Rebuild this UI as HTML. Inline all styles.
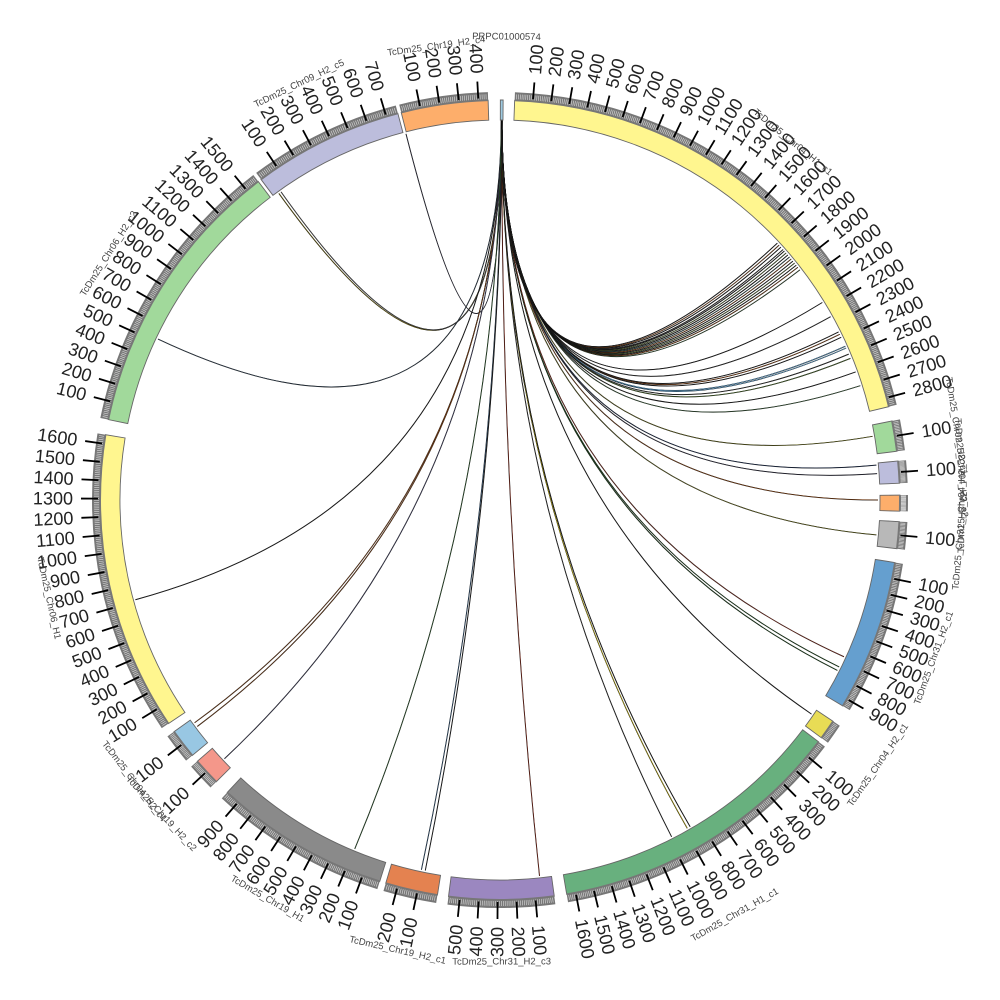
<!DOCTYPE html>
<html><head><meta charset="utf-8"><style>
html,body{margin:0;padding:0;background:#fff;}
svg{display:block;}
.tl text{font-family:"Liberation Sans",sans-serif;font-size:18px;fill:#222;dominant-baseline:central;}
.nm text{font-family:"Liberation Sans",sans-serif;font-size:9.5px;fill:#444;text-anchor:middle;dominant-baseline:central;}
</style></head><body>
<svg id="s" width="1000" height="1000" viewBox="0 0 1000 1000" xmlns="http://www.w3.org/2000/svg">
<g id="links"></g>
<g id="ideo"></g>
<g id="ticks"></g>
<g class="tl" id="t2"><text>100</text><text>200</text><text>300</text><text>400</text><text>500</text><text>600</text><text>700</text><text>800</text><text>900</text><text>1000</text><text>1100</text><text>1200</text><text>1300</text><text>1400</text><text>1500</text><text>1600</text><text>1700</text><text>1800</text><text>1900</text><text>2000</text><text>2100</text><text>2200</text><text>2300</text><text>2400</text><text>2500</text><text>2600</text><text>2700</text><text>2800</text></g>
<g class="tl" id="t3"><text>100</text></g>
<g class="tl" id="t4"><text>100</text></g>
<g class="tl" id="t6"><text>100</text></g>
<g class="tl" id="t7"><text>100</text><text>200</text><text>300</text><text>400</text><text>500</text><text>600</text><text>700</text><text>800</text><text>900</text></g>
<g class="tl" id="t9"><text>100</text><text>200</text><text>300</text><text>400</text><text>500</text><text>600</text><text>700</text><text>800</text><text>900</text><text>1000</text><text>1100</text><text>1200</text><text>1300</text><text>1400</text><text>1500</text><text>1600</text></g>
<g class="tl" id="t10"><text>100</text><text>200</text><text>300</text><text>400</text><text>500</text></g>
<g class="tl" id="t11"><text>100</text><text>200</text></g>
<g class="tl" id="t12"><text>100</text><text>200</text><text>300</text><text>400</text><text>500</text><text>600</text><text>700</text><text>800</text><text>900</text></g>
<g class="tl" id="t13"><text>100</text></g>
<g class="tl" id="t14"><text>100</text></g>
<g class="tl" id="t15"><text>100</text><text>200</text><text>300</text><text>400</text><text>500</text><text>600</text><text>700</text><text>800</text><text>900</text><text>1000</text><text>1100</text><text>1200</text><text>1300</text><text>1400</text><text>1500</text><text>1600</text></g>
<g class="tl" id="t16"><text>100</text><text>200</text><text>300</text><text>400</text><text>500</text><text>600</text><text>700</text><text>800</text><text>900</text><text>1000</text><text>1100</text><text>1200</text><text>1300</text><text>1400</text><text>1500</text></g>
<g class="tl" id="t17"><text>100</text><text>200</text><text>300</text><text>400</text><text>500</text><text>600</text><text>700</text></g>
<g class="tl" id="t18"><text>100</text><text>200</text><text>300</text><text>400</text></g>
<g class="nm">
<text id="n1">PRPC01000574</text>
<text id="n2">TcDm25_Chr04_H1_c1</text>
<text id="n3">TcDm25_Chr02_H2_c1</text>
<text id="n4">TcDm25_Chr04_H2_c2</text>
<text id="n5">TcDm25_Chr04_H2_c3</text>
<text id="n6">TcDm25_Chr31_H2_c2</text>
<text id="n7">TcDm25_Chr31_H2_c1</text>
<text id="n8">TcDm25_Chr04_H2_c1</text>
<text id="n9">TcDm25_Chr31_H1_c1</text>
<text id="n10">TcDm25_Chr31_H2_c3</text>
<text id="n11">TcDm25_Chr19_H2_c1</text>
<text id="n12">TcDm25_Chr19_H1</text>
<text id="n13">TcDm25_Chr19_H2_c2</text>
<text id="n14">TcDm25_Chr04_H2_c4</text>
<text id="n15">TcDm25_Chr06_H1</text>
<text id="n16">TcDm25_Chr06_H2_c2</text>
<text id="n17">TcDm25_Chr09_H2_c5</text>
<text id="n18">TcDm25_Chr19_H2_c4</text>
</g>
</svg>
<script>
var cx=500,cy=500,NS="http://www.w3.org/2000/svg";
var segs=[
[1,0.05,0.45,60,"#9ecae1"],
[2,2.1,76.5,2850,"#fff68f"],
[3,78.6,83.0,200,"#a1d99b"],
[4,84.4,87.6,200,"#bcbddc"],
[5,89.3,91.6,200,"#fdae6b"],
[6,93.1,97.0,200,"#b8b8b8"],
[7,99.0,121.0,950,"#659fcf"],
[8,123.6,126.5,130,"#e8dc55"],
[9,127.2,170.4,1650,"#68b07e"],
[10,172.2,187.4,560,"#9b87c0"],
[11,189.0,196.6,260,"#e48250"],
[12,197.5,223.0,980,"#8a8a8a"],
[13,225.2,229.2,200,"#f4978a"],
[14,230.3,234.6,200,"#98c7e3"],
[15,236.0,279.4,1650,"#fff68f"],
[16,281.6,322.8,1580,"#a1d99b"],
[17,323.3,345.2,760,"#bcbddc"],
[18,345.7,358.3,450,"#fdae6b"]];
function pt(a,r){var t=a*Math.PI/180;return [cx+r*Math.sin(t),cy-r*Math.cos(t)];}
function f(p){return p[0].toFixed(2)+","+p[1].toFixed(2);}
function sector(a1,a2,r1,r2){var L=(a2-a1)>180?1:0;
return "M"+f(pt(a1,r2))+"A"+r2+","+r2+" 0 "+L+" 1 "+f(pt(a2,r2))+"L"+f(pt(a2,r1))+"A"+r1+","+r1+" 0 "+L+" 0 "+f(pt(a1,r1))+"Z";}
function el(tag,attrs,parent){var e=document.createElementNS(NS,tag);for(var k in attrs)e.setAttribute(k,attrs[k]);parent.appendChild(e);return e;}
var ideo=document.getElementById("ideo"),ticks=document.getElementById("ticks");
var tickD="",minorD="";
segs.forEach(function(s){
 var id=s[0],a1=s[1],a2=s[2],len=s[3];
 var n=document.getElementById("n"+id);
 var m=(a1+a2)/2,R=462;
 if(id===1){m=0.8;R=463;}
 if(id===18){m=352;R=458;}
 if(id===9){m=150.5;R=477;}
 var p=pt(m,R);
 if(m>90&&m<270){n.setAttribute("transform","rotate("+(m+180).toFixed(2)+" "+f(p)+")");}
 else{n.setAttribute("transform","rotate("+m.toFixed(2)+" "+f(p)+")");}
 n.setAttribute("x",p[0].toFixed(2));n.setAttribute("y",p[1].toFixed(2));
 if(id!==1) el("path",{d:sector(a1,a2,399,408),fill:"#777"},ticks);
 el("path",{d:sector(a1,a2,380,400),fill:s[4],stroke:"#666","stroke-width":"0.9"},ideo);
 if(id===1) return;
 for(var v=10;v<len;v+=10){var a=a1+(a2-a1)*v/len;
  minorD+="M"+f(pt(a,401))+"L"+f(pt(a,406));}
 var g=document.getElementById("t"+id);
 if(g){var tx=g.getElementsByTagName("text");
  for(var i=0;i<tx.length;i++){var v2=(i+1)*100;var a=a1+(a2-a1)*v2/len;
   tickD+="M"+f(pt(a,402))+"L"+f(pt(a,419));
   var q=pt(a,427),t=tx[i];
   t.setAttribute("x",q[0].toFixed(2));t.setAttribute("y",q[1].toFixed(2));
   if(a<180){t.setAttribute("transform","rotate("+(a-90).toFixed(2)+" "+f(q)+")");t.setAttribute("text-anchor","start");}
   else{t.setAttribute("transform","rotate("+(a+90).toFixed(2)+" "+f(q)+")");t.setAttribute("text-anchor","end");}
  }}
});
el("path",{d:minorD,stroke:"#ddd","stroke-width":"0.6"},ticks);
el("path",{d:tickD,stroke:"#000","stroke-width":"1.8"},ticks);
var links=document.getElementById("links");
var L=[[0.2,324.2,"#7a6a00"],[0.25,324.6,"#555"],[0.3,345.6,"#334"],[0.2,295.2,"#345"],[0.3,254.7,"#222"],
[0.35,233.9,"#8b4513"],[0.3,233.2,"#8b4513"],[0.25,226.8,"#446"],[0.2,202.6,"#2e5a2e"],[0.3,192.0,"#335577"],[0.35,191.4,"#222"],
[0.3,174.0,"#8b2e1e"],[0.3,153.0,"#333"],[0.25,150.3,"#c8b400"],[0.3,149.8,"#222"],[0.3,116.8,"#1e4d1e"],[0.25,116.2,"#1e4d1e"],[0.3,114.5,"#8b2e1e"],[0.3,124.5,"#222"],
[0.3,95.3,"#6a6a20"],[0.3,90.0,"#8b4513"],[0.3,86.0,"#334"],[0.3,84.7,"#223355"],[0.3,80.3,"#6a6a20"],
[0.3,72.4,"#3a5a3a"],[0.3,70.2,"#222"],[0.3,68.0,"#4a6a2a"],[0.3,67.3,"#333"],[0.3,66.3,"#5aa0d0"],[0.3,66.0,"#5aa0d0"],[0.3,64.5,"#222"],[0.3,64.0,"#8b4513"],[0.3,63.6,"#222"],[0.3,61.0,"#333"],[0.3,58.5,"#222"],
[0.3,52.5,"#3a5a3a"],[0.3,52.0,"#8b4513"],[0.3,51.6,"#222"],[0.3,51.2,"#556b2f"],[0.3,50.8,"#222"],[0.3,50.4,"#8b4513"],[0.3,50.0,"#2f4f4f"],[0.3,49.6,"#222"],[0.3,49.2,"#556b2f"],[0.3,48.8,"#222"],[0.3,48.5,"#333"],[0.3,48.0,"#222"],[0.3,47.6,"#8b4513"],[0.3,47.2,"#222"]];
L.forEach(function(l){var p1=pt(l[0],380),p2=pt(l[1],378);
 var d="M"+f(p1)+"Q"+cx+","+cy+" "+f(p2);
 el("path",{d:d,fill:"none",stroke:"#111","stroke-width":"1.0"},links);
 el("path",{d:d,fill:"none",stroke:l[2],"stroke-width":"0.5"},links);
});
</script>
</body></html>
